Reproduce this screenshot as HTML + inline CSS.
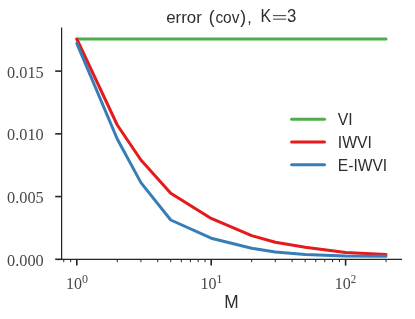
<!DOCTYPE html>
<html><head><meta charset="utf-8"><style>
html,body{margin:0;padding:0;background:#fff;}
svg{display:block;will-change:transform}
text{fill:#2e2e2e}
#ser text{fill:#484848}
.sans{font-family:"Liberation Sans",sans-serif}
.serif{font-family:"Liberation Serif",serif}
</style></head><body>
<svg width="415" height="319" viewBox="0 0 415 319">
<rect width="415" height="319" fill="#fff"/>
<g fill="none" stroke-width="3" stroke-linejoin="round" stroke-linecap="round">
<path d="M76.80,39 L386.06,39" stroke="#4daf4a"/>
<path d="M76.80,39.00 L117.26,125.00 L140.93,160.00 L170.74,193.20 L211.20,218.40 L251.66,235.60 L275.33,242.30 L305.14,247.20 L345.60,252.60 L386.06,254.50" stroke="#e41a1c"/>
<path d="M76.80,43.30 L117.26,139.00 L140.93,182.60 L170.74,220.00 L211.20,238.20 L251.66,248.25 L275.33,251.90 L305.14,254.50 L345.60,256.00 L386.06,256.25" stroke="#377eb8"/>
</g>
<g stroke="#262626" stroke-width="1.25" fill="none">
<line x1="61.6" y1="27.5" x2="61.6" y2="259.92"/>
<line x1="60.97" y1="259.3" x2="402" y2="259.3"/>
</g>
<g stroke="#262626" stroke-width="1.6" fill="none"><line x1="76.80" y1="259.3" x2="76.80" y2="265.6"/><line x1="211.20" y1="259.3" x2="211.20" y2="265.6"/><line x1="345.60" y1="259.3" x2="345.60" y2="265.6"/><line x1="55.2" y1="259.30" x2="61.6" y2="259.30"/><line x1="55.2" y1="196.57" x2="61.6" y2="196.57"/><line x1="55.2" y1="133.84" x2="61.6" y2="133.84"/><line x1="55.2" y1="71.11" x2="61.6" y2="71.11"/></g>
<g stroke="#262626" stroke-width="1" fill="none"><line x1="63.78" y1="259.3" x2="63.78" y2="262.2"/><line x1="70.65" y1="259.3" x2="70.65" y2="262.2"/><line x1="117.26" y1="259.3" x2="117.26" y2="262.2"/><line x1="140.93" y1="259.3" x2="140.93" y2="262.2"/><line x1="157.72" y1="259.3" x2="157.72" y2="262.2"/><line x1="170.74" y1="259.3" x2="170.74" y2="262.2"/><line x1="181.38" y1="259.3" x2="181.38" y2="262.2"/><line x1="190.38" y1="259.3" x2="190.38" y2="262.2"/><line x1="198.18" y1="259.3" x2="198.18" y2="262.2"/><line x1="205.05" y1="259.3" x2="205.05" y2="262.2"/><line x1="251.66" y1="259.3" x2="251.66" y2="262.2"/><line x1="275.33" y1="259.3" x2="275.33" y2="262.2"/><line x1="292.12" y1="259.3" x2="292.12" y2="262.2"/><line x1="305.14" y1="259.3" x2="305.14" y2="262.2"/><line x1="315.78" y1="259.3" x2="315.78" y2="262.2"/><line x1="324.78" y1="259.3" x2="324.78" y2="262.2"/><line x1="332.58" y1="259.3" x2="332.58" y2="262.2"/><line x1="339.45" y1="259.3" x2="339.45" y2="262.2"/><line x1="386.06" y1="259.3" x2="386.06" y2="262.2"/></g>
<g class="serif" id="ser" font-size="17.3" style="fill:#484848"><text x="43.7" y="265.70" text-anchor="end" textLength="36.6" lengthAdjust="spacingAndGlyphs">0.000</text><text x="43.7" y="202.97" text-anchor="end" textLength="36.6" lengthAdjust="spacingAndGlyphs">0.005</text><text x="43.7" y="140.24" text-anchor="end" textLength="36.6" lengthAdjust="spacingAndGlyphs">0.010</text><text x="43.7" y="77.51" text-anchor="end" textLength="36.6" lengthAdjust="spacingAndGlyphs">0.015</text><text x="66.05" y="289.2" font-size="17.5" textLength="16" lengthAdjust="spacingAndGlyphs">10</text><text x="82.10" y="282.8" font-size="11.9" textLength="6.0" lengthAdjust="spacingAndGlyphs">0</text><text x="200.45" y="289.2" font-size="17.5" textLength="16" lengthAdjust="spacingAndGlyphs">10</text><text x="216.30" y="282.8" font-size="11.9" textLength="6.3" lengthAdjust="spacingAndGlyphs">1</text><text x="334.85" y="289.2" font-size="17.5" textLength="16" lengthAdjust="spacingAndGlyphs">10</text><text x="350.70" y="282.8" font-size="11.9" textLength="5.4" lengthAdjust="spacingAndGlyphs">2</text></g>
<g class="sans">
<g font-size="16"><text x="166.2" y="22.5" textLength="35.6" lengthAdjust="spacingAndGlyphs">error</text>
<text x="208.7" y="23.3" font-size="17.5">(</text>
<text x="215.4" y="22.5" textLength="24" lengthAdjust="spacingAndGlyphs">cov</text>
<text x="240.2" y="23.3" font-size="17.5">)</text>
<text x="247.3" y="22.5">,</text>
<text x="260.6" y="22.35" font-size="18.9" textLength="10.6" lengthAdjust="spacingAndGlyphs">K</text>
<path d="M273,15.65H286.1M273,19.15H286.1" stroke="#2e2e2e" stroke-width="0.95" fill="none"/>
<text x="287.0" y="22.35" font-size="18.9" textLength="9.3" lengthAdjust="spacingAndGlyphs">3</text></g>
<text x="231.4" y="308.3" font-size="18.1" text-anchor="middle" textLength="14.4" lengthAdjust="spacingAndGlyphs">M</text>
<g font-size="17.3">
<text x="337.8" y="124.7" textLength="14.9" lengthAdjust="spacingAndGlyphs">VI</text>
<text x="337.8" y="147.8" textLength="34.2" lengthAdjust="spacingAndGlyphs">IWVI</text>
<text x="337.8" y="171.2" textLength="49.4" lengthAdjust="spacingAndGlyphs">E-IWVI</text>
</g>
</g>
<g stroke-width="3" fill="none" stroke-linecap="round">
<line x1="291.6" y1="119.25" x2="324.5" y2="119.25" stroke="#4daf4a"/>
<line x1="291.6" y1="141.9" x2="324.5" y2="141.9" stroke="#e41a1c"/>
<line x1="291.6" y1="164.75" x2="324.5" y2="164.75" stroke="#377eb8"/>
</g>
</svg>
</body></html>
